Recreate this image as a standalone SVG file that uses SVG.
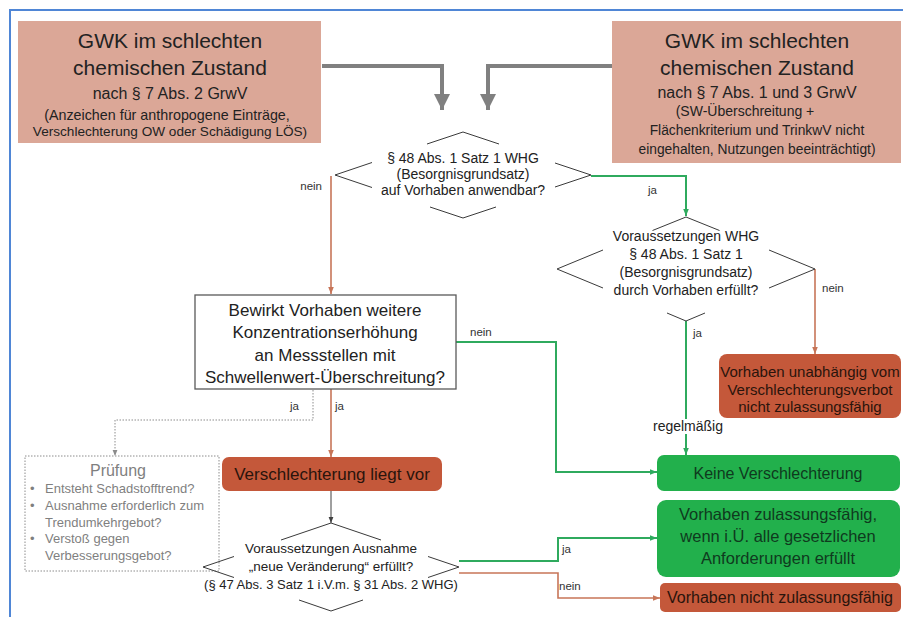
<svg xmlns="http://www.w3.org/2000/svg" width="903" height="617" viewBox="0 0 903 617">
<style>
text{font-family:"Liberation Sans",Arial,sans-serif;fill:#222}
.c{text-anchor:middle}
.r{text-anchor:end}
.lbl{font-size:11.5px;fill:#333}
.top{fill:#dba797}
.brick{fill:#c4583a}
.grn{fill:#22b04c}
.dia{fill:none;stroke:#3a3a3a;stroke-width:1}
.bt{fill:#2a140c}
.gt{fill:#0f3a1e}
.cg{fill:none;stroke:#2faa5e;stroke-width:2}
.cr{fill:none;stroke:#c77558;stroke-width:1.6}
.cd{fill:none;stroke:#404040;stroke-width:1}
.cdot{fill:none;stroke:#8c8c8c;stroke-width:1;stroke-dasharray:1.5 1.5}
.cgray{fill:none;stroke:#808080;stroke-width:4}
.pg{fill:#7f7f7f}
</style>
<defs>
<marker id="mg" viewBox="0 0 10 10" refX="10" refY="5" markerWidth="7" markerHeight="7" orient="auto" markerUnits="userSpaceOnUse"><path d="M0,1 L10,5 L0,9 z" fill="#2faa5e"/></marker>
<marker id="mr" viewBox="0 0 10 10" refX="10" refY="5" markerWidth="7" markerHeight="7" orient="auto" markerUnits="userSpaceOnUse"><path d="M0,1 L10,5 L0,9 z" fill="#c77558"/></marker>
<marker id="md" viewBox="0 0 10 10" refX="10" refY="5" markerWidth="6" markerHeight="6" orient="auto" markerUnits="userSpaceOnUse"><path d="M0,1 L10,5 L0,9 z" fill="#404040"/></marker>
<marker id="mdot" viewBox="0 0 10 10" refX="10" refY="5" markerWidth="6" markerHeight="6" orient="auto" markerUnits="userSpaceOnUse"><path d="M0,1 L10,5 L0,9 z" fill="#8c8c8c"/></marker>
<marker id="mgray" viewBox="0 0 10 10" refX="10" refY="5" markerWidth="16" markerHeight="16" orient="auto" markerUnits="userSpaceOnUse"><path d="M0,0 L10,5 L0,10 z" fill="#808080"/></marker>
</defs>

<path d="M10,617 V10 H903" fill="none" stroke="#4f86d6" stroke-width="2"/>

<g id="connectors">
<path class="cgray" d="M322,66 H442 V110" marker-end="url(#mgray)"/>
<path class="cgray" d="M612,66 H488 V110" marker-end="url(#mgray)"/>
<path class="cr" d="M331,176 V294" marker-end="url(#mr)"/>
<path class="cg" d="M591,176 H686 V216" marker-end="url(#mg)"/>
<path class="cr" d="M815,269 V354" marker-end="url(#mr)"/>
<path class="cg" d="M686,321 V419"/>
<path class="cg" d="M686,434 V455" marker-end="url(#mg)"/>
<path class="cg" d="M456,342 H556 V472 H657" marker-end="url(#mg)"/>
<path class="cr" d="M331,389 V457" marker-end="url(#mr)"/>
<path class="cdot" d="M313,390 V420 H115 V456" marker-end="url(#mdot)"/>
<path class="cd" d="M331,491 V523" marker-end="url(#md)"/>
<path class="cg" d="M459,561 H558 V538 H657" marker-end="url(#mg)"/>
<path class="cr" d="M459,573 H558 V598 H660" marker-end="url(#mr)"/>
<text class="lbl r" x="322" y="190">nein</text>
<text class="lbl" x="648" y="194">ja</text>
<text class="lbl" x="822" y="292">nein</text>
<text class="lbl" x="693" y="337">ja</text>
<text class="c" x="688" y="431" font-size="14">regelmäßig</text>
<text class="lbl" x="470" y="336">nein</text>
<text class="lbl" x="290" y="410">ja</text>
<text class="lbl" x="335" y="410">ja</text>
<text class="lbl" x="562" y="553">ja</text>
<text class="lbl" x="559" y="590">nein</text>
</g>

<g id="gwk-left">
<rect class="top" x="18" y="21" width="303" height="122"/>
<text class="c" x="170" y="48" font-size="21">GWK im schlechten</text>
<text class="c" x="170" y="75" font-size="21">chemischen Zustand</text>
<text class="c" x="170" y="99" font-size="16">nach § 7 Abs. 2 GrwV</text>
<text class="c" x="167" y="120" font-size="14.3">(Anzeichen für anthropogene Einträge,</text>
<text class="c" x="170" y="136" font-size="13.6">Verschlechterung OW oder Schädigung LÖS)</text>
</g>

<g id="gwk-right">
<rect class="top" x="612" y="21" width="289" height="142"/>
<text class="c" x="757" y="48" font-size="21">GWK im schlechten</text>
<text class="c" x="757" y="75" font-size="21">chemischen Zustand</text>
<text class="c" x="757" y="98" font-size="16">nach § 7 Abs. 1 und 3 GrwV</text>
<text class="c" x="745" y="116" font-size="14">(SW-Überschreitung +</text>
<text class="c" x="757" y="135" font-size="13.8">Flächenkriterium und TrinkwV nicht</text>
<text class="c" x="757" y="154" font-size="13.8">eingehalten, Nutzungen beeinträchtigt)</text>
</g>

<g id="diamond-besorgnis">
<path class="dia" d="M427,144 L463,132 L499,144 M372,162.5 L335,175 L372,187.5 M555,163 L591,175 L555,187 M430,207 L463,218 L496,207"/>
<text class="c" x="463" y="163" font-size="14">§ 48 Abs. 1 Satz 1 WHG</text>
<text class="c" x="463" y="179" font-size="14">(Besorgnisgrundsatz)</text>
<text class="c" x="463" y="195" font-size="14">auf Vorhaben anwendbar?</text>
</g>

<g id="diamond-voraussetzungen">
<path class="dia" d="M652.5,230.5 L686,217 L719.5,230.5 M603,250 L557,269 L603,288 M769,250 L815,269 L769,288 M667,313 L686,321 L705,313"/>
<text class="c" x="686" y="241" font-size="14">Voraussetzungen WHG</text>
<text class="c" x="686" y="259" font-size="14">§ 48 Abs. 1 Satz 1</text>
<text class="c" x="686" y="277" font-size="14">(Besorgnisgrundsatz)</text>
<text class="c" x="686" y="295" font-size="14">durch Vorhaben erfüllt?</text>
</g>

<g id="box-bewirkt">
<rect x="195" y="295" width="261" height="94" fill="#fff" stroke="#595959" stroke-width="1.3"/>
<text class="c" x="325" y="316" font-size="17">Bewirkt Vorhaben weitere</text>
<text class="c" x="325" y="338" font-size="17">Konzentrationserhöhung</text>
<text class="c" x="325" y="361" font-size="17">an Messstellen mit</text>
<text class="c" x="325" y="383" font-size="17">Schwellenwert-Überschreitung?</text>
</g>

<g id="box-unabhaengig">
<rect class="brick" x="719" y="354" width="182" height="64" rx="8"/>
<text class="c bt" x="810" y="377" font-size="15">Vorhaben unabhängig vom</text>
<text class="c bt" x="810" y="395" font-size="15">Verschlechterungsverbot</text>
<text class="c bt" x="810" y="412" font-size="15">nicht zulassungsfähig</text>
</g>

<g id="box-pruefung">
<rect x="25" y="456" width="194" height="115" fill="#fff" stroke="#8c8c8c" stroke-width="1" stroke-dasharray="1.5 1.5"/>
<text class="c pg" x="118" y="476" font-size="16">Prüfung</text>
<text class="pg" x="30" y="493" font-size="13">•</text>
<text class="pg" x="45" y="493" font-size="13">Entsteht Schadstofftrend?</text>
<text class="pg" x="30" y="510" font-size="13">•</text>
<text class="pg" x="45" y="510" font-size="13">Ausnahme erforderlich zum</text>
<text class="pg" x="45" y="527" font-size="13">Trendumkehrgebot?</text>
<text class="pg" x="30" y="543" font-size="13">•</text>
<text class="pg" x="45" y="543" font-size="13">Verstoß gegen</text>
<text class="pg" x="45" y="560" font-size="13">Verbesserungsgebot?</text>
</g>

<g id="box-verschlechterung">
<rect class="brick" x="222" y="457" width="220" height="34" rx="7"/>
<text class="c bt" x="332" y="480" font-size="17">Verschlechterung liegt vor</text>
</g>

<g id="box-keine">
<rect class="grn" x="657" y="455" width="243" height="36" rx="7"/>
<text class="c gt" x="778" y="479" font-size="16">Keine Verschlechterung</text>
</g>

<g id="diamond-ausnahme">
<path class="dia" d="M281,540 L331,523 L381,540 M234,556.5 L203,567 L234,577.5 M428,556.5 L459,567 L428,577.5 M299,600 L331,611 L363,600"/>
<text class="c" x="331" y="553" font-size="13.5">Voraussetzungen Ausnahme</text>
<text class="c" x="331" y="571" font-size="13.5">„neue Veränderung“ erfüllt?</text>
<text class="c" x="331" y="589" font-size="13">(§ 47 Abs. 3 Satz 1 i.V.m. § 31 Abs. 2 WHG)</text>
</g>

<g id="box-zulassungsfaehig">
<rect class="grn" x="657" y="500" width="243" height="77" rx="9"/>
<text class="c gt" x="778" y="520" font-size="16.5">Vorhaben zulassungsfähig,</text>
<text class="c gt" x="778" y="542" font-size="16.5">wenn i.Ü. alle gesetzlichen</text>
<text class="c gt" x="778" y="564" font-size="16.5">Anforderungen erfüllt</text>
</g>

<g id="box-nicht-zulassungsfaehig">
<rect class="brick" x="660" y="583" width="241" height="29" rx="5"/>
<text class="c bt" x="780" y="603" font-size="16">Vorhaben nicht zulassungsfähig</text>
</g>
</svg>
